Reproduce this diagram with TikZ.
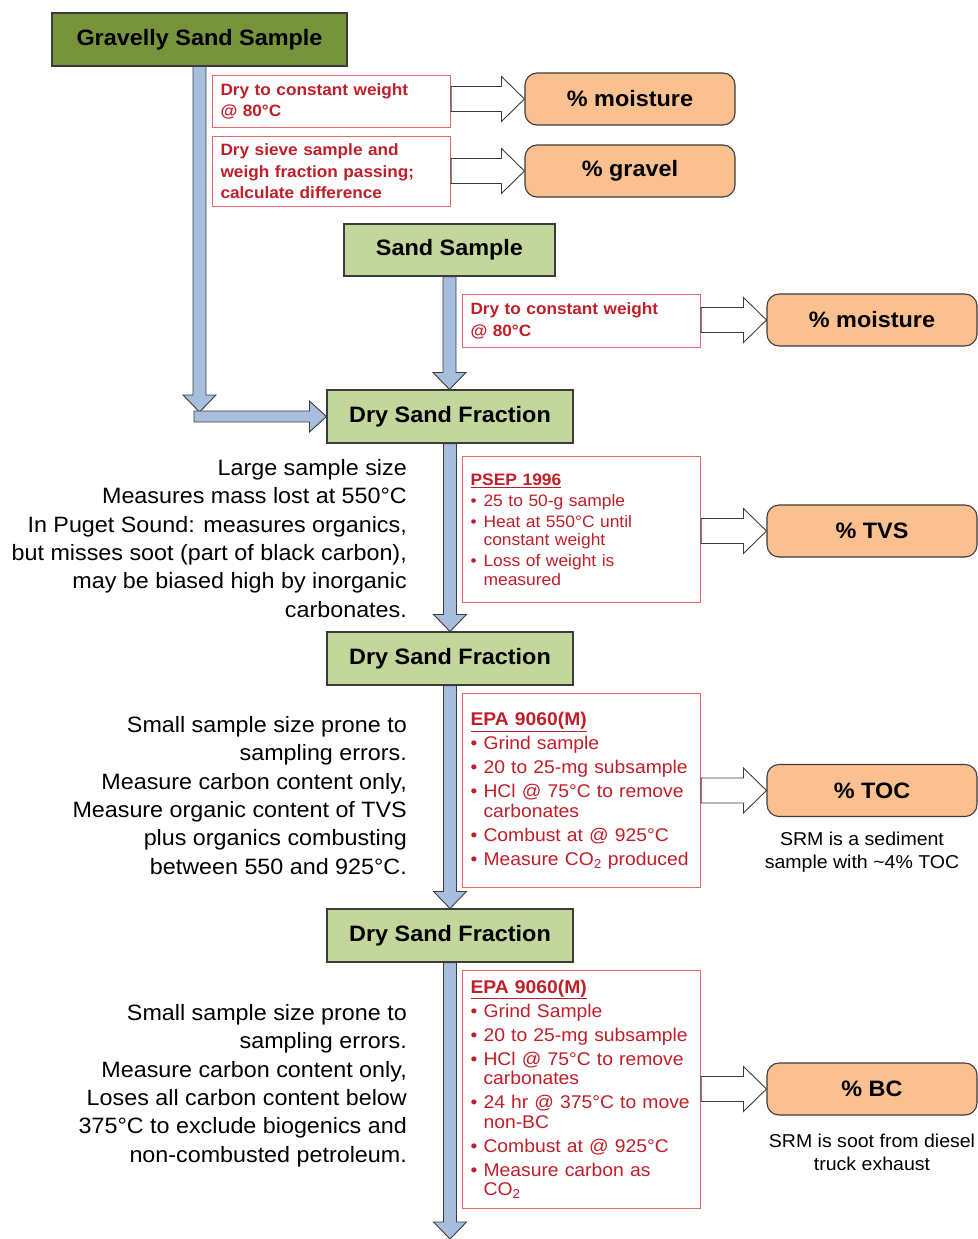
\documentclass[tikz,border=0pt]{standalone}
\usepackage{fontspec}
\setmainfont{Liberation Sans}[FakeStretch=1.05]
\usetikzlibrary{calc}
\definecolor{darkgreen}{RGB}{119,147,60}
\definecolor{lightgreen}{RGB}{195,214,155}
\definecolor{peach}{RGB}{250,192,144}
\definecolor{bluefill}{RGB}{167,190,222}
\definecolor{edgegray}{RGB}{60,60,60}
\definecolor{redtext}{RGB}{192,30,40}
\definecolor{rededge}{RGB}{225,105,105}
\newcommand{\vblock}[2]{\draw[bluearrow] let \p1=#1, \p2=#2 in
  (\x1-6.5pt,\y1) -- (\x1-6.5pt,\y2+17pt) -- (\x1-16.5pt,\y2+17pt) -- (\x1,\y2)
  -- (\x1+16.5pt,\y2+17pt) -- (\x1+6.5pt,\y2+17pt) -- (\x1+6.5pt,\y1) -- cycle;}
\newcommand{\hblock}[6]{\draw[#1] let \p1=#2, \p2=#3 in
  (\x1,\y1+#4) -- (\x2-#6,\y1+#4) -- (\x2-#6,\y1+#5) -- (\x2,\y1)
  -- (\x2-#6,\y1-#5) -- (\x2-#6,\y1-#4) -- (\x1,\y1-#4) -- cycle;}
\newcommand{\itm}[1]{\hangindent=13pt\hangafter=1\noindent\makebox[13pt][l]{\textbullet}#1\par}
\begin{document}
\begin{tikzpicture}[x=1pt,y=-1pt,
  greenbox/.style={draw=edgegray, line width=1.1pt, inner sep=0pt,
    font=\fontsize{22.3}{24}\selectfont\bfseries},
  result/.style={draw=edgegray, line width=1.1pt, fill=peach, rounded corners=12pt,
    minimum width=210pt, minimum height=52pt, inner sep=0pt,
    font=\fontsize{22.3}{24}\selectfont\bfseries},
  redbox/.style={draw=rededge, line width=1.1pt, fill=white, anchor=north west,
    inner xsep=8pt, inner ysep=4pt, text width=222pt, align=left, text=redtext,
    execute at begin node={\hyphenpenalty=10000\exhyphenpenalty=10000}},
  topred/.style={redbox, font=\fontsize{16.4}{21.5}\selectfont\bfseries},
  psep/.style={redbox, font=\fontsize{16.6}{18.5}\selectfont,
    execute at begin node={\hyphenpenalty=10000\setlength{\parskip}{2.5pt}}},
  epa/.style={redbox, font=\fontsize{18.4}{19.5}\selectfont,
    execute at begin node={\hyphenpenalty=10000\setlength{\parskip}{4.5pt}}},
  bluearrow/.style={fill=bluefill, draw=edgegray, line width=0.9pt},
  whitearrow/.style={fill=white, draw=edgegray, line width=0.9pt},
  note/.style={anchor=north east, inner sep=0pt, align=right,
    font=\fontsize{22.2}{28.4}\selectfont},
  caption/.style={anchor=north, inner sep=0pt, align=center,
    font=\fontsize{18.6}{23}\selectfont}
]
\useasboundingbox (0,0) rectangle (977,1239);

% main boxes
\node[greenbox, fill=darkgreen, minimum width=295pt, minimum height=53pt] (gss) at (199.5,39.5) {Gravelly Sand Sample};
\node[greenbox, fill=lightgreen, minimum width=211pt, minimum height=52pt] (ss) at (449.5,250) {Sand Sample};
\node[greenbox, fill=lightgreen, minimum width=246pt, minimum height=53pt] (dsf1) at (450,416.5) {Dry Sand Fraction};
\node[greenbox, fill=lightgreen, minimum width=246pt, minimum height=53pt] (dsf2) at (450,658.5) {Dry Sand Fraction};
\node[greenbox, fill=lightgreen, minimum width=246pt, minimum height=53pt] (dsf3) at (450,935.5) {Dry Sand Fraction};

% red boxes
\node[topred, minimum height=52pt] (r1) at (212,75) {Dry to constant weight\\@ 80°C};
\node[topred, minimum height=70pt] (r2) at (212,136) {Dry sieve sample and\\weigh fraction passing;\\calculate difference};
\node[topred, minimum height=53pt] (r3) at (462,294) {Dry to constant weight\\@ 80°C};
\node[psep, minimum height=146pt] (r4) at (462,456) {\underline{\textbf{PSEP 1996}}\par
\itm{25 to 50-g sample}\itm{Heat at 550°C until\newline constant weight}\itm{Loss of weight is\newline measured}};
\node[epa, minimum height=194pt] (r5) at (462,693) {\underline{\textbf{EPA 9060(M)}}\par
\itm{Grind sample}\itm{20 to 25-mg subsample}\itm{HCl @ 75°C to remove\newline carbonates}\itm{Combust at @ 925°C}\itm{Measure CO\textsubscript{2} produced}};
\node[epa, minimum height=238pt] (r6) at (462,970) {\underline{\textbf{EPA 9060(M)}}\par
\itm{Grind Sample}\itm{20 to 25-mg subsample}\itm{HCl @ 75°C to remove\newline carbonates}\itm{24 hr @ 375°C to move\newline non-BC}\itm{Combust at @ 925°C}\itm{Measure carbon as\newline CO\textsubscript{2}}};

% result boxes
\node[result] (m1) at (630,99) {\% moisture};
\node[result] (m2) at (630,171) {\% gravel};
\node[result] (m3) at (872,320) {\% moisture};
\node[result] (m4) at (872,531) {\% TVS};
\node[result] (m5) at (872,790.5) {\% TOC};
\node[result] (m6) at (872,1089) {\% BC};

% blue arrows
\coordinate (gtip) at (199,412);
\coordinate (hstart) at (194,416.5);
\coordinate (bottom) at (450,1239);
\vblock{(gss.south)}{(gtip)}
\hblock{bluearrow}{(hstart)}{(dsf1.west)}{5.5pt}{15.5pt}{17pt}
\vblock{(ss.south)}{(dsf1.north)}
\vblock{(dsf1.south)}{(dsf2.north)}
\vblock{(dsf2.south)}{(dsf3.north)}
\vblock{(dsf3.south)}{(bottom)}

% white arrows
\hblock{whitearrow}{(r1.east |- m1.west)}{(m1.west)}{12.5pt}{22.5pt}{23pt}
\hblock{whitearrow}{(r2.east |- m2.west)}{(m2.west)}{12.5pt}{22.5pt}{23pt}
\hblock{whitearrow}{(r3.east |- m3.west)}{(m3.west)}{12.5pt}{22.5pt}{23pt}
\hblock{whitearrow}{(r4.east |- m4.west)}{(m4.west)}{12.5pt}{22.5pt}{23pt}
\hblock{whitearrow}{(r5.east |- m5.west)}{(m5.west)}{12.5pt}{22.5pt}{23pt}
\hblock{whitearrow}{(r6.east |- m6.west)}{(m6.west)}{12.5pt}{22.5pt}{23pt}

% notes
\node[note] (n1) at (407,459) {Large sample size\\Measures mass lost at 550°C\\In Puget Sound: measures organics,\\but misses soot (part of black carbon),\\may be biased high by inorganic\\carbonates.};
\node[note] (n2) at (407,716) {Small sample size prone to\\sampling errors.\\Measure carbon content only,\\Measure organic content of TVS\\plus organics combusting\\between 550 and 925°C.};
\node[note] (n3) at (407,1004) {Small sample size prone to\\sampling errors.\\Measure carbon content only,\\Loses all carbon content below\\375°C to exclude biogenics and\\non-combusted petroleum.};

\node[caption] (c1) at (862,832) {SRM is a sediment\\sample with \textasciitilde4\% TOC};
\node[caption] (c2) at (872,1134) {SRM is soot from diesel\\truck exhaust};
\end{tikzpicture}
\end{document}
